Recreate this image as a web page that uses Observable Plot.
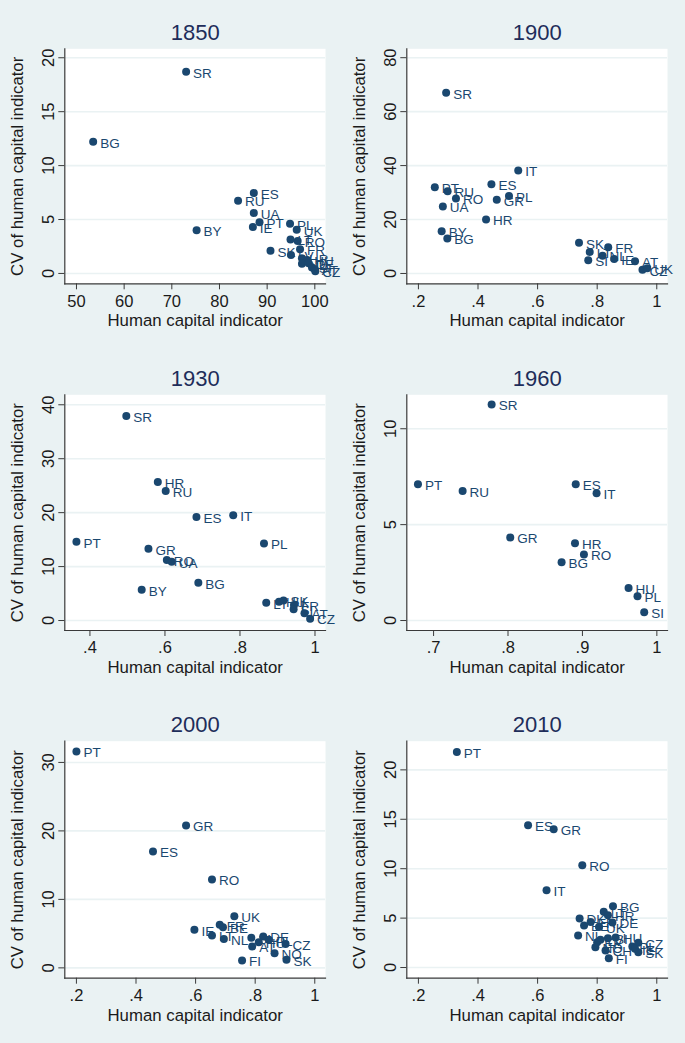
<!DOCTYPE html>
<html><head><meta charset="utf-8">
<script src="https://cdn.jsdelivr.net/npm/d3@7"></script>
<script src="https://cdn.jsdelivr.net/npm/@observablehq/plot@0.6"></script>
<style>
html,body{margin:0;padding:0;background:#eaf2f3;}
#root{position:relative;width:685px;height:1043px;background:#eaf2f3;overflow:hidden;}
#root svg{position:absolute;}
</style></head><body><div id="root"></div>
<script>
// ---- data ----
const codes1850 = ["SR","BG","ES","RU","UA","PT","IE","BY","PL","UK","LT","RO","SK","FR","LV","HR","HU","NL","DE","SI","AT","CZ"];
const hc1850 = [73.0,53.5,87.2,83.9,87.2,88.4,87.0,75.2,94.8,96.2,94.9,96.4,90.7,96.9,95.0,97.3,98.4,97.3,98.7,99.4,100.0,100.1];
const cv1850 = [18.7,12.2,7.45,6.75,5.6,4.75,4.3,4.0,4.6,4.05,3.15,3.0,2.1,2.25,1.7,1.4,1.25,0.9,0.95,0.55,0.4,0.2];

const codes1900 = ["SR","IT","ES","PT","RU","PL","GR","RO","UA","HR","BY","BG","SK","FR","LT","NL","IE","SI","AT","CZ","UK"];
const hc1900 = [0.293,0.535,0.445,0.255,0.298,0.504,0.463,0.326,0.282,0.427,0.278,0.297,0.739,0.837,0.775,0.818,0.857,0.770,0.927,0.952,0.968];
const cv1900 = [67.0,38.2,33.1,32.0,30.5,28.7,27.3,27.8,24.8,20.0,15.7,13.0,11.4,9.7,8.0,6.6,5.4,4.9,4.5,1.4,1.9];

const codes1930 = ["SR","HR","RU","ES","IT","PT","PL","GR","RO","UA","BG","BY","LT","HU","SK","FR","SI","AT","CZ"];
const hc1930 = [0.497,0.581,0.602,0.684,0.782,0.364,0.864,0.556,0.605,0.618,0.689,0.538,0.870,0.904,0.916,0.944,0.943,0.972,0.987];
const cv1930 = [37.9,25.7,24.0,19.2,19.5,14.6,14.3,13.3,11.2,10.9,7.0,5.7,3.3,3.5,3.7,2.9,2.1,1.35,0.35];

const codes1960 = ["SR","PT","RU","ES","IT","GR","HR","RO","BG","HU","PL","SI"];
const hc1960 = [0.778,0.679,0.739,0.891,0.919,0.803,0.890,0.902,0.872,0.962,0.974,0.983];
const cv1960 = [11.27,7.1,6.75,7.1,6.64,4.33,4.03,3.44,3.04,1.69,1.27,0.43];

const codes2000 = ["PT","GR","ES","RO","UK","FR","BE","IE","LT","NL","SI","DE","PL","HU","AT","CZ","NO","SK","FI"];
const hc2000 = [0.200,0.568,0.457,0.655,0.730,0.681,0.692,0.596,0.655,0.695,0.787,0.827,0.846,0.812,0.790,0.902,0.865,0.905,0.756];
const cv2000 = [31.6,20.8,17.0,12.9,7.54,6.28,5.93,5.55,4.72,4.23,4.38,4.57,4.1,3.74,3.11,3.5,2.14,1.17,1.07];

const codes2010 = ["PT","ES","GR","RO","IT","BG","LT","HR","DK","FR","BE","UK","DE","NL","SI","HU","LV","EE","NO","CH","FI","PL","CZ","SK","IE"];
const hc2010 = [0.329,0.568,0.654,0.750,0.630,0.853,0.822,0.836,0.741,0.778,0.756,0.806,0.851,0.736,0.836,0.862,0.811,0.800,0.794,0.828,0.839,0.918,0.938,0.938,0.927];
const cv2010 = [21.8,14.4,14.0,10.35,7.82,6.2,5.65,5.3,4.95,4.6,4.25,4.1,4.55,3.24,2.95,3.05,2.8,2.55,2.06,1.72,0.95,2.12,2.5,1.55,1.9];

// tick values
const xTicks1850 = [50,60,70,80,90,100];
const yTicks1850 = [0,5,10,15,20];
const xTicks1900 = [0.2,0.4,0.6,0.8,1];
const yTicks1900 = [0,20,40,60,80];
const xTicks1930 = [0.4,0.6,0.8,1];
const yTicks1930 = [0,10,20,30,40];
const xTicks1960 = [0.7,0.8,0.9,1];
const yTicks1960 = [0,5,10];
const xTicks2000 = [0.2,0.4,0.6,0.8,1];
const yTicks2000 = [0,10,20,30];
const xTicks2010 = [0.2,0.4,0.6,0.8,1];
const yTicks2010 = [0,5,10,15,20];

const xTitle = "Human capital indicator";
const yTitle = "CV of human capital indicator";

// ---- layout ----
const rows = [
  {top:0,   height:345, mt:48.3, mb:61.7},
  {top:345, height:345, mt:49.3, mb:60},
  {top:700, height:343, mt:40.7, mb:65.3}
];
const cols = [{left:0, width:342, mr:17}, {left:342, width:343, mr:18}];

const panels = [
  {title:"1850", codes:codes1850, hc:hc1850, cv:cv1850, xT:xTicks1850, yT:yTicks1850, xd:[47.55,102.24], yd:[-0.96,20.83], r:0, c:0},
  {title:"1900", codes:codes1900, hc:hc1900, cv:cv1900, xT:xTicks1900, yT:yTicks1900, xd:[0.161,1.036], yd:[-3.83,83.3], r:0, c:1},
  {title:"1930", codes:codes1930, hc:hc1930, cv:cv1930, xT:xTicks1930, yT:yTicks1930, xd:[0.333,1.028], yd:[-1.85,41.85], r:1, c:0},
  {title:"1960", codes:codes1960, hc:hc1960, cv:cv1960, xT:xTicks1960, yT:yTicks1960, xd:[0.664,1.0143], yd:[-0.52,11.77], r:1, c:1},
  {title:"2000", codes:codes2000, hc:hc2000, cv:cv2000, xT:xTicks2000, yT:yTicks2000, xd:[0.161,1.036], yd:[-1.51,33.1], r:2, c:0},
  {title:"2010", codes:codes2010, hc:hc2010, cv:cv2010, xT:xTicks2010, yT:yTicks2010, xd:[0.161,1.036], yd:[-1.08,22.9], r:2, c:1}
];

const navy = "#1a476f";
const axisCol = "#3a3a3a";
const textCol = "#1a1a1a";
const fmt = d => String(d).replace(/^0\./, ".");
const root = document.getElementById("root");

for (const p of panels) {
  const R = rows[p.r], C = cols[p.c];
  const data = p.codes.map((code, i) => ({code, hc: p.hc[i], cv: p.cv[i]}));
  const chart = Plot.plot({
    width: C.width, height: R.height,
    marginLeft: 64.3, marginRight: C.mr, marginTop: R.mt, marginBottom: R.mb,
    style: {background: "transparent", fontFamily: "'Liberation Sans', Arial, sans-serif", overflow: "visible"},
    x: {domain: p.xd},
    y: {domain: p.yd},
    marks: [
      Plot.frame({fill: "white", stroke: "none"}),
      Plot.gridY(p.yT, {stroke: "#eaf2f3", strokeOpacity: 1, strokeWidth: 1.6}),
      Plot.frame({anchor: "left", stroke: axisCol, strokeWidth: 1.2}),
      Plot.frame({anchor: "bottom", stroke: axisCol, strokeWidth: 1.2}),
      Plot.axisX(p.xT, {tickSize: 6, tickPadding: 5, tickFormat: fmt, fontSize: 16.5, fill: textCol, stroke: axisCol, label: null}),
      Plot.axisY(p.yT, {tickSize: 6, tickRotate: -90, tickPadding: 5, tickFormat: fmt, fontSize: 16.5, fill: textCol, stroke: axisCol, label: null}),
      Plot.dot(data, {x: "hc", y: "cv", r: 4, fill: navy, stroke: "none"}),
      Plot.text(data, {x: "hc", y: "cv", text: "code", dx: 7, dy: 1.5, textAnchor: "start", fill: navy, fontSize: 13.5}),
      Plot.text([p.title], {text: d => d, frameAnchor: "top", dy: -16, lineAnchor: "middle", fontSize: 22, fill: "#1e2d5a"}),
      Plot.text([xTitle], {text: d => d, frameAnchor: "bottom", dy: 37, lineAnchor: "middle", fontSize: 16.8, fill: textCol}),
      Plot.text([yTitle], {text: d => d, frameAnchor: "left", dx: -47, rotate: -90, textAnchor: "middle", lineAnchor: "middle", fontSize: 16.8, fill: textCol})
    ]
  });
  chart.style.left = C.left + "px";
  chart.style.top = R.top + "px";
  root.appendChild(chart);
}
</script>
</body></html>
